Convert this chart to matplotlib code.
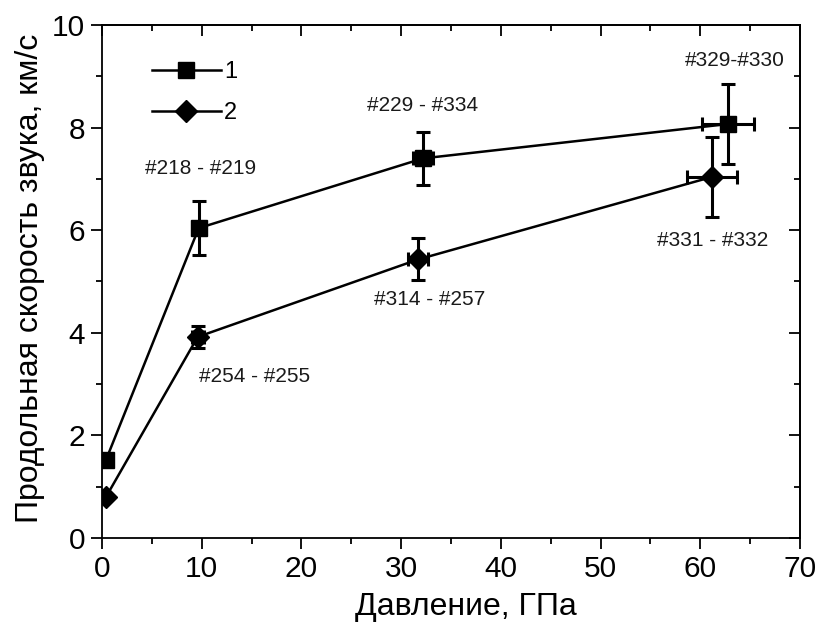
import matplotlib
matplotlib.use('Agg')
import matplotlib.pyplot as plt
from matplotlib.ticker import MultipleLocator
from matplotlib.lines import Line2D

plt.rcParams['font.family'] = ['Liberation Sans', 'DejaVu Sans']

# серия 1 (квадраты)
p1 = [0.4, 9.7, 32.2, 62.8]
v1 = [1.52, 6.04, 7.40, 8.07]
p1_err = [0, 0, 1.0, 2.6]
v1_err = [0, 0.52, 0.52, 0.78]

# серия 2 (ромбы)
p2 = [0.4, 9.6, 31.7, 61.2]
v2 = [0.80, 3.92, 5.43, 7.04]
p2_err = [0, 0.6, 1.0, 2.5]
v2_err = [0, 0.21, 0.41, 0.78]

labels_txt = ['#218 - #219', '#229 - #334', '#329-#330', '#254 - #255', '#314 - #257', '#331 - #332']
labels_x = [9.9, 32.1, 63.5, 15.3, 32.9, 61.2]
labels_y = [7.2, 8.44, 9.3, 3.14, 4.64, 5.8]

fig = plt.figure(figsize=(8.27, 6.34), dpi=100)
ax = fig.add_axes([0.1233, 0.1514, 0.8441, 0.8092])

ax.errorbar(p1, v1, xerr=p1_err, yerr=v1_err, color='black', marker='s', markersize=11,
            lw=1.8, elinewidth=2.2, capsize=5, capthick=2.2)
ax.errorbar(p2, v2, xerr=p2_err, yerr=v2_err, color='black', marker='D', markersize=11,
            lw=1.8, elinewidth=2.2, capsize=5, capthick=2.2)

for t, x, y in zip(labels_txt, labels_x, labels_y):
    ax.text(x, y, t, ha='center', va='center', fontsize=15, color='#1a1a1a')

ax.set_xlim(0, 70)
ax.set_ylim(0, 10)
ax.xaxis.set_major_locator(MultipleLocator(10))
ax.xaxis.set_minor_locator(MultipleLocator(5))
ax.yaxis.set_major_locator(MultipleLocator(2))
ax.yaxis.set_minor_locator(MultipleLocator(1))
ax.tick_params(which='both', direction='out', width=1.3)
ax.tick_params(which='major', length=8, labelsize=21.5, pad=4)
ax.tick_params(which='minor', length=4.5)
for s in ax.spines.values():
    s.set_linewidth(1.3)

# зеркальные оси сверху и справа, риски внутрь
top = ax.secondary_xaxis('top')
top.xaxis.set_major_locator(MultipleLocator(10))
top.xaxis.set_minor_locator(MultipleLocator(5))
top.tick_params(which='both', direction='in', width=1.3, labeltop=False)
top.tick_params(which='major', length=8)
top.tick_params(which='minor', length=4.5)
right = ax.secondary_yaxis('right')
right.yaxis.set_major_locator(MultipleLocator(2))
right.yaxis.set_minor_locator(MultipleLocator(1))
right.tick_params(which='both', direction='in', width=1.3, labelright=False)
right.tick_params(which='major', length=8)
right.tick_params(which='minor', length=4.5)
for sec in (top, right):
    for s in sec.spines.values():
        s.set_linewidth(1.3)

ax.set_xlabel('Давление, ГПа', fontsize=23)
ax.set_ylabel('Продольная скорость звука, км/с', fontsize=23)
ax.xaxis.set_label_coords(0.522, -0.135)
ax.xaxis.label.set_verticalalignment('center')
ax.yaxis.set_label_coords(-0.103, 0.507)
ax.yaxis.label.set_verticalalignment('center')

handles = [Line2D([], [], color='black', marker='s', markersize=11, lw=1.8),
           Line2D([], [], color='black', marker='D', markersize=11, lw=1.8)]
ax.legend(handles, ['1', '2'], loc='upper left', bbox_to_anchor=(0.072, 0.93),
          frameon=False, fontsize=17, handlelength=2.9, labelspacing=0.82,
          handletextpad=0.15, borderpad=0, borderaxespad=0)

fig.savefig('out.png', dpi=100)
